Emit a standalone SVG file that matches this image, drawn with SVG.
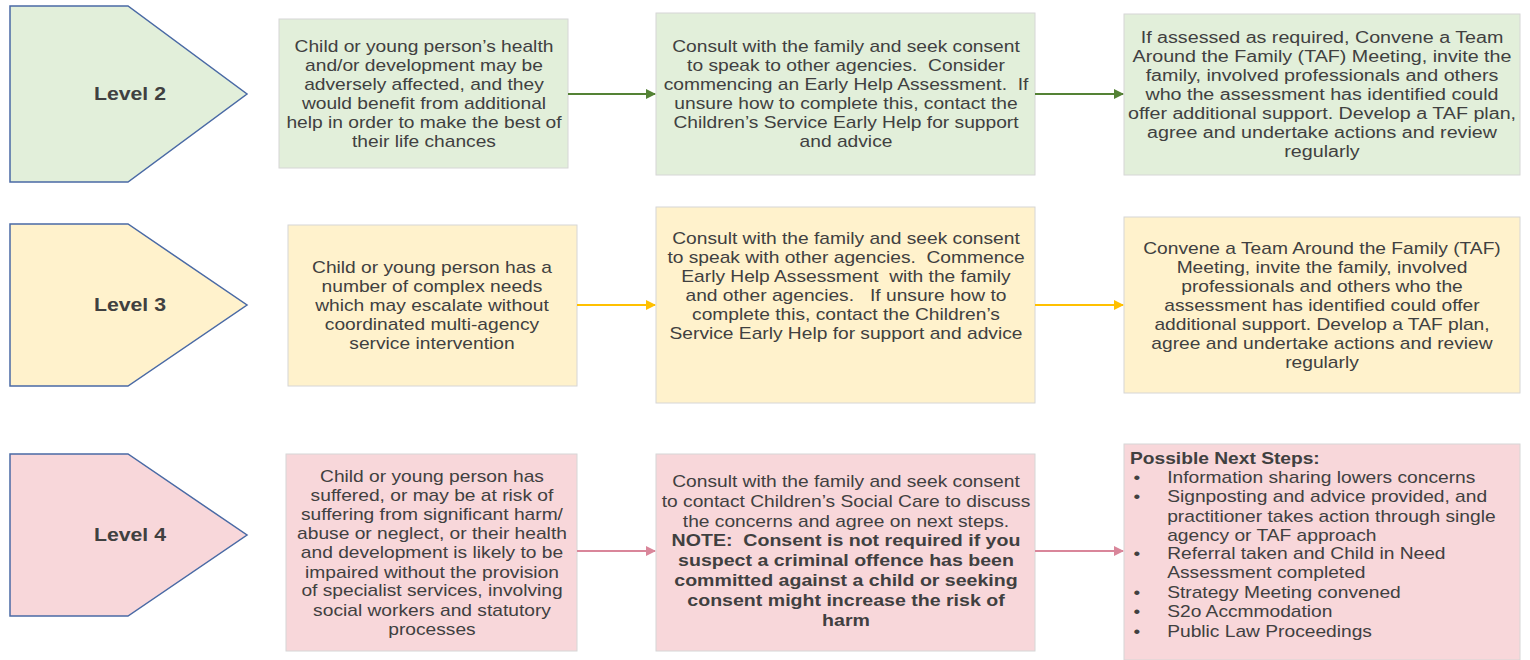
<svg xmlns="http://www.w3.org/2000/svg" width="1530" height="660" viewBox="0 0 1530 660" xml:space="preserve">
<style>
text{font-family:"Liberation Sans",Arial,sans-serif;fill:#404040;font-size:16px;white-space:pre}
.c{text-anchor:middle}
.lvl{font-weight:bold;font-size:18px;text-anchor:middle}
.b{font-weight:bold;font-size:16.3px}
.pent{stroke:#4a6aa5;stroke-width:1.5}
.box{stroke:#d6d6d6;stroke-width:1}
.g{fill:#e2efda}.y{fill:#fff2cc}.p{fill:#f8d7da}
.con{stroke-width:2;fill:none}
</style>
<defs>
<marker id="ag" markerWidth="10" markerHeight="10" refX="9" refY="5" orient="auto" markerUnits="userSpaceOnUse"><path d="M0,0 L10,5 L0,10 z" fill="#548235"/></marker>
<marker id="ay" markerWidth="10" markerHeight="10" refX="9" refY="5" orient="auto" markerUnits="userSpaceOnUse"><path d="M0,0 L10,5 L0,10 z" fill="#ffc000"/></marker>
<marker id="ap" markerWidth="10" markerHeight="10" refX="9" refY="5" orient="auto" markerUnits="userSpaceOnUse"><path d="M0,0 L10,5 L0,10 z" fill="#d9869a"/></marker>
</defs>

<g id="level2">
<path class="pent g" d="M10,6 H128 L247,94 L128,182 H10 Z"/>
<text class="lvl" x="130" y="100" transform="matrix(1.18,0,0,1,-23.4,0)">Level 2</text>
</g>
<g id="l2a">
<rect class="box g" x="279" y="19" width="289" height="149"/>
<g transform="matrix(1.2,0,0,1,-84.8,0)">
<text class="c" x="424" y="52">Child or young person’s health</text>
<text class="c" x="424" y="71">and/or development may be</text>
<text class="c" x="424" y="90">adversely affected, and they</text>
<text class="c" x="424" y="109">would benefit from additional</text>
<text class="c" x="424" y="128">help in order to make the best of</text>
<text class="c" x="424" y="147">their life chances</text>
</g>
</g>
<g id="l2b">
<rect class="box g" x="656" y="13" width="379" height="162"/>
<g transform="matrix(1.2,0,0,1,-169.2,0)">
<text class="c" x="846" y="52">Consult with the family and seek consent</text>
<text class="c" x="846" y="71">to speak to other agencies.  Consider</text>
<text class="c" x="846" y="90">commencing an Early Help Assessment.  If</text>
<text class="c" x="846" y="109">unsure how to complete this, contact the</text>
<text class="c" x="846" y="128">Children’s Service Early Help for support</text>
<text class="c" x="846" y="147">and advice</text>
</g>
</g>
<g id="l2c">
<rect class="box g" x="1124" y="14" width="396" height="161"/>
<g transform="matrix(1.23,0,0,1,-304.06,0)">
<text class="c" x="1322" y="43">If assessed as required, Convene a Team</text>
<text class="c" x="1322" y="62">Around the Family (TAF) Meeting, invite the</text>
<text class="c" x="1322" y="81">family, involved professionals and others</text>
<text class="c" x="1322" y="100">who the assessment has identified could</text>
<text class="c" x="1322" y="119">offer additional support. Develop a TAF plan,</text>
<text class="c" x="1322" y="138">agree and undertake actions and review</text>
<text class="c" x="1322" y="157">regularly</text>
</g>
</g>

<g id="level3">
<path class="pent y" d="M10,224 H128 L247,305 L128,386 H10 Z"/>
<text class="lvl" x="130" y="311" transform="matrix(1.18,0,0,1,-23.4,0)">Level 3</text>
</g>
<g id="l3a">
<rect class="box y" x="288" y="225" width="289" height="161"/>
<g transform="matrix(1.2,0,0,1,-86.4,0)">
<text class="c" x="432" y="273">Child or young person has a</text>
<text class="c" x="432" y="292">number of complex needs</text>
<text class="c" x="432" y="311">which may escalate without</text>
<text class="c" x="432" y="330">coordinated multi-agency</text>
<text class="c" x="432" y="349">service intervention</text>
</g>
</g>
<g id="l3b">
<rect class="box y" x="656" y="207" width="379" height="196"/>
<g transform="matrix(1.2,0,0,1,-169.2,0)">
<text class="c" x="846" y="244">Consult with the family and seek consent</text>
<text class="c" x="846" y="263">to speak with other agencies.  Commence</text>
<text class="c" x="846" y="282">Early Help Assessment  with the family</text>
<text class="c" x="846" y="301">and other agencies.   If unsure how to</text>
<text class="c" x="846" y="320">complete this, contact the Children’s</text>
<text class="c" x="846" y="339">Service Early Help for support and advice</text>
</g>
</g>
<g id="l3c">
<rect class="box y" x="1124" y="217" width="396" height="176"/>
<g transform="matrix(1.2,0,0,1,-264.4,0)">
<text class="c" x="1322" y="254">Convene a Team Around the Family (TAF)</text>
<text class="c" x="1322" y="273">Meeting, invite the family, involved</text>
<text class="c" x="1322" y="292">professionals and others who the</text>
<text class="c" x="1322" y="311">assessment has identified could offer</text>
<text class="c" x="1322" y="330">additional support. Develop a TAF plan,</text>
<text class="c" x="1322" y="349">agree and undertake actions and review</text>
<text class="c" x="1322" y="368">regularly</text>
</g>
</g>

<g id="level4">
<path class="pent p" d="M10,454 H128 L247,535 L128,616 H10 Z"/>
<text class="lvl" x="130" y="541" transform="matrix(1.18,0,0,1,-23.4,0)">Level 4</text>
</g>
<g id="l4a">
<rect class="box p" x="286" y="454" width="291" height="197"/>
<g transform="matrix(1.2,0,0,1,-86.4,0)">
<text class="c" x="432" y="482">Child or young person has</text>
<text class="c" x="432" y="501">suffered, or may be at risk of</text>
<text class="c" x="432" y="520">suffering from significant harm/</text>
<text class="c" x="432" y="539">abuse or neglect, or their health</text>
<text class="c" x="432" y="558">and development is likely to be</text>
<text class="c" x="432" y="578">impaired without the provision</text>
<text class="c" x="432" y="596">of specialist services, involving</text>
<text class="c" x="432" y="616">social workers and statutory</text>
<text class="c" x="432" y="635">processes</text>
</g>
</g>
<g id="l4b">
<rect class="box p" x="656" y="454" width="379" height="197"/>
<g transform="matrix(1.2,0,0,1,-169.2,0)">
<text class="c" x="846" y="487">Consult with the family and seek consent</text>
<text class="c" x="846" y="507">to contact Children’s Social Care to discuss</text>
<text class="c" x="846" y="527">the concerns and agree on next steps.</text>
<text class="c b" x="846" y="546">NOTE:  Consent is not required if you</text>
<text class="c b" x="846" y="566">suspect a criminal offence has been</text>
<text class="c b" x="846" y="586">committed against a child or seeking</text>
<text class="c b" x="846" y="606">consent might increase the risk of</text>
<text class="c b" x="846" y="626">harm</text>
</g>
</g>
<g id="l4c">
<rect class="box p" x="1124" y="444" width="396" height="216"/>
<g transform="matrix(1.2,0,0,1,-226,0)">
<text x="1130" y="464" style="font-weight:bold">Possible Next Steps:</text>
<text x="1133" y="483">•</text><text x="1161" y="483">Information sharing lowers concerns</text>
<text x="1133" y="502">•</text><text x="1161" y="502">Signposting and advice provided, and</text>
<text x="1161" y="522">practitioner takes action through single</text>
<text x="1161" y="541">agency or TAF approach</text>
<text x="1133" y="559">•</text><text x="1161" y="559">Referral taken and Child in Need</text>
<text x="1161" y="578">Assessment completed</text>
<text x="1133" y="598">•</text><text x="1161" y="598">Strategy Meeting convened</text>
<text x="1133" y="617">•</text><text x="1161" y="617">S2o Accmmodation</text>
<text x="1133" y="637">•</text><text x="1161" y="637">Public Law Proceedings</text>
</g>
</g>

<g id="connectors">
<line class="con" x1="568" y1="94" x2="655" y2="94" stroke="#548235" marker-end="url(#ag)"/>
<line class="con" x1="1035" y1="94" x2="1123" y2="94" stroke="#548235" marker-end="url(#ag)"/>
<line class="con" x1="577" y1="305" x2="655" y2="305" stroke="#ffc000" marker-end="url(#ay)"/>
<line class="con" x1="1035" y1="305" x2="1123" y2="305" stroke="#ffc000" marker-end="url(#ay)"/>
<line class="con" x1="577" y1="551" x2="655" y2="551" stroke="#d9869a" marker-end="url(#ap)"/>
<line class="con" x1="1035" y1="551" x2="1123" y2="551" stroke="#d9869a" marker-end="url(#ap)"/>
</g>
</svg>
